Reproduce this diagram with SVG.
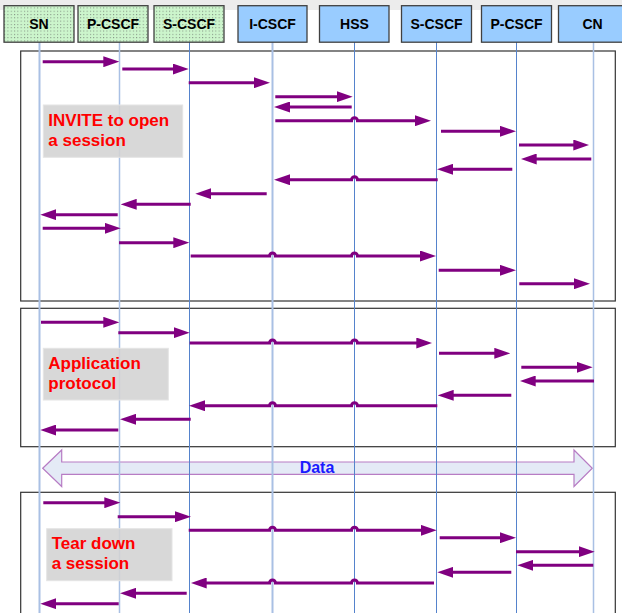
<svg xmlns="http://www.w3.org/2000/svg" width="622" height="613" viewBox="0 0 622 613">
<style>
.box{stroke:#404040;stroke-width:1.3}
.green{fill:url(#dots)}
.blue{fill:#99ccff}
.hd{font-family:"Liberation Sans",Arial,sans-serif;font-weight:bold;font-size:14px;fill:#000;text-anchor:middle}
.ll-light{stroke:#a9c0e4;stroke-width:2}
.ll-dark{stroke:#5583cc;stroke-width:1}
.frame{fill:none;stroke:#333;stroke-width:1.2}
.lbl{fill:#d3d3d3;fill-opacity:0.88;stroke:#e4e4e4;stroke-width:1}
.lt{font-family:"Liberation Sans",Arial,sans-serif;font-weight:bold;font-size:17px;fill:#ff0000}
.msg{fill:none;stroke:#800080;stroke-width:3;marker-end:url(#ah)}
</style>
<defs>
<pattern id="dots" width="3.3" height="3.3" patternUnits="userSpaceOnUse">
<rect width="3.3" height="3.3" fill="#ccf5cc"/>
<rect x="1" y="1" width="0.8" height="0.8" fill="#555"/>
</pattern>
<marker id="ah" viewBox="0 0 16 11" markerWidth="16" markerHeight="11" markerUnits="userSpaceOnUse" refX="6" refY="5.5" orient="auto">
<path d="M0,0 L16,5.5 L0,11 z" fill="#800080"/>
</marker>
</defs>
<rect x="0" y="0" width="622" height="613" fill="#fff"/>
<rect x="0" y="0" width="622" height="10" fill="#ececec"/>
<g id="frames">
<rect class="frame" x="20.7" y="51" width="594.6" height="250"/>
<rect class="frame" x="20.7" y="308.3" width="594.6" height="138.4"/>
<rect class="frame" x="20.7" y="492.3" width="594.6" height="130"/>
</g>
<g id="data-flow">
<polygon points="42.7,468.3 61.7,450 61.7,462 574,462 574,450 592.3,468.3 574,486.5 574,474.3 61.7,474.3 61.7,486.5" fill="#e4eaf6" stroke="#b77cc4" stroke-width="1.2"/>
<text x="317" y="472.5" font-family="Liberation Sans, Arial, sans-serif" font-weight="bold" font-size="16" fill="#1a1aff" text-anchor="middle">Data</text>
</g>
<g id="node-sn">
<line class="ll-light" x1="39.5" y1="42" x2="39.5" y2="613"/>
<rect class="box green" x="4" y="5.7" width="70" height="36.5"/>
<text class="hd" x="39" y="29">SN</text>
</g>
<g id="node-pcscf1">
<line class="ll-light" x1="119.5" y1="42" x2="119.5" y2="613" style="stroke-width:1.5"/>
<rect class="box green" x="78" y="5.7" width="70" height="36.5"/>
<text class="hd" x="113" y="29">P-CSCF</text>
</g>
<g id="node-scscf1">
<line class="ll-dark" x1="189.5" y1="42" x2="189.5" y2="613"/>
<rect class="box green" x="154" y="5.7" width="70" height="36.5"/>
<text class="hd" x="189" y="29">S-CSCF</text>
</g>
<g id="node-icscf">
<line class="ll-light" x1="272.5" y1="42" x2="272.5" y2="613"/>
<rect class="box blue" x="238" y="5.7" width="69" height="36.5"/>
<text class="hd" x="272.5" y="29">I-CSCF</text>
</g>
<g id="node-hss">
<line class="ll-dark" x1="354.5" y1="42" x2="354.5" y2="613"/>
<rect class="box blue" x="319.5" y="5.7" width="69.5" height="36.5"/>
<text class="hd" x="354.5" y="29">HSS</text>
</g>
<g id="node-scscf2">
<line class="ll-dark" x1="436.5" y1="42" x2="436.5" y2="613"/>
<rect class="box blue" x="401.5" y="5.7" width="70" height="36.5"/>
<text class="hd" x="436.5" y="29">S-CSCF</text>
</g>
<g id="node-pcscf2">
<line class="ll-dark" x1="516.5" y1="42" x2="516.5" y2="613"/>
<rect class="box blue" x="481.5" y="5.7" width="70" height="36.5"/>
<text class="hd" x="516.5" y="29">P-CSCF</text>
</g>
<g id="node-cn">
<line class="ll-light" x1="593.5" y1="42" x2="593.5" y2="613" style="stroke-width:1.5"/>
<rect class="box blue" x="558.5" y="5.7" width="70" height="36.5"/>
<text class="hd" x="592.5" y="29">CN</text>
</g>
<g id="label-invite">
<rect class="lbl" x="43.3" y="105" width="139.4" height="52.3"/>
<text class="lt" x="48.3" y="126">INVITE to open</text>
<text class="lt" x="48.3" y="146">a session</text>
</g>
<g id="label-app">
<rect class="lbl" x="43.3" y="348.3" width="125" height="51.7"/>
<text class="lt" x="48.3" y="369.3">Application</text>
<text class="lt" x="48.3" y="389.3">protocol</text>
</g>
<g id="label-teardown">
<rect class="lbl" x="46.7" y="528.7" width="125.3" height="52"/>
<text class="lt" x="51.7" y="549.3">Tear down</text>
<text class="lt" x="51.7" y="569.3">a session</text>
</g>
<g id="connectors">
<path class="msg" d="M42.7,61.7 H109.3"/>
<path class="msg" d="M122.3,69 H178.7"/>
<path class="msg" d="M188.7,82.7 H260"/>
<path class="msg" d="M275.3,96.7 H342.7"/>
<path class="msg" d="M351.7,107 H284"/>
<path class="msg" d="M275.3,120.7 H351.5 a3,3 0 0 1 6,0 H421"/>
<path class="msg" d="M441,131.3 H506"/>
<path class="msg" d="M519,145 H579.3"/>
<path class="msg" d="M591.3,159 H530.7"/>
<path class="msg" d="M512.3,169.3 H447"/>
<path class="msg" d="M437.7,179.7 H357.5 a3,3 0 0 0 -6,0 H284"/>
<path class="msg" d="M266.7,193.7 H205.3"/>
<path class="msg" d="M190.7,204.3 H130.7"/>
<path class="msg" d="M117.7,214.7 H50.3"/>
<path class="msg" d="M42.7,228.3 H110.7"/>
<path class="msg" d="M119,242.7 H179.3"/>
<path class="msg" d="M190.7,256 H269.5 a3,3 0 0 1 6,0 H351.5 a3,3 0 0 1 6,0 H426"/>
<path class="msg" d="M438.7,270.3 H506"/>
<path class="msg" d="M519.3,283.7 H580"/>

<path class="msg" d="M41,322.3 H109.3"/>
<path class="msg" d="M118.3,332.7 H179.7"/>
<path class="msg" d="M189.7,343 H269.5 a3,3 0 0 1 6,0 H351.5 a3,3 0 0 1 6,0 H422.3"/>
<path class="msg" d="M439,353.3 H500.3"/>
<path class="msg" d="M521.3,367.3 H582.7"/>
<path class="msg" d="M594,381 H529.7"/>
<path class="msg" d="M511.3,395.3 H447.7"/>
<path class="msg" d="M437.3,405.7 H357.5 a3,3 0 0 0 -6,0 H275.5 a3,3 0 0 0 -6,0 H199"/>
<path class="msg" d="M190.7,419.3 H130"/>
<path class="msg" d="M118.3,430 H50.3"/>

<path class="msg" d="M43.3,502.7 H110.3"/>
<path class="msg" d="M117.7,516.7 H181"/>
<path class="msg" d="M188.7,530.3 H269.5 a3,3 0 0 1 6,0 H351.5 a3,3 0 0 1 6,0 H426.7"/>
<path class="msg" d="M439.7,537.7 H506"/>
<path class="msg" d="M516,551.7 H584.7"/>
<path class="msg" d="M593.3,565.3 H527.3"/>
<path class="msg" d="M511.3,572.3 H447.3"/>
<path class="msg" d="M434,583 H357.5 a3,3 0 0 0 -6,0 H275.5 a3,3 0 0 0 -6,0 H200.7"/>
<path class="msg" d="M186.7,593.3 H130"/>
<path class="msg" d="M118.7,603.7 H50.3"/>
</g>
</svg>
